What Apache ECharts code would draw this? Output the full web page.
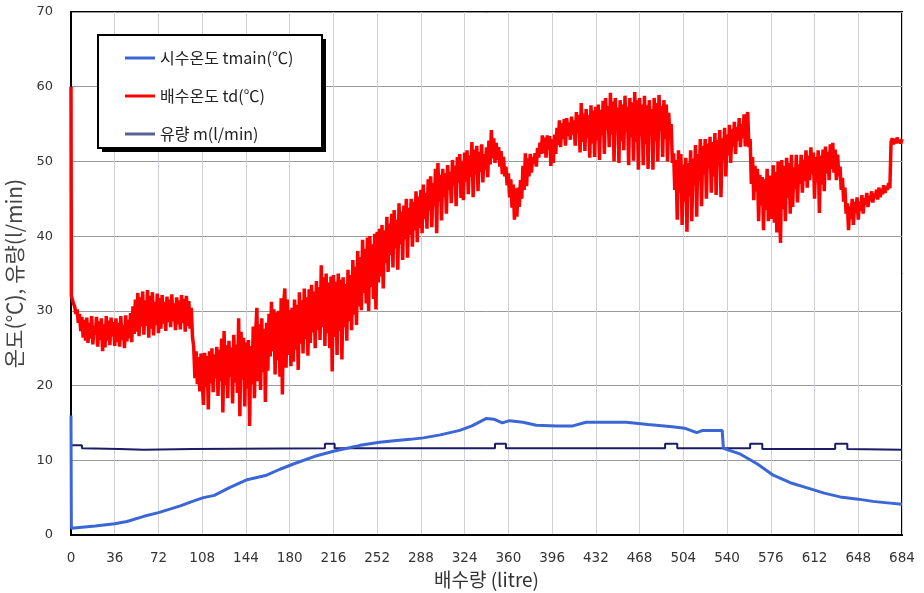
<!DOCTYPE html>
<html>
<head>
<meta charset="utf-8">
<title>배수량에 따른 온도 및 유량</title>
<script src="https://cdn.jsdelivr.net/npm/echarts@6/dist/echarts.min.js"></script>
<style>
  html, body { margin: 0; padding: 0; background: #fff; }
  #chart { width: 924px; height: 593px; }
</style>
</head>
<body>
<div id="chart"></div>
<script>
// Axis ticks
const xTicks = { min: 0, max: 684, step: 36 };
const yTicks = { min: 0, max: 70, step: 10 };

// Series names
const seriesNames = ['시수온도 tmain(℃)', '배수온도 td(℃)', '유량 m(l/min)'];

// Mains water temperature [litre, ℃]
const tmain = [
  [0, 16.0], [0.3, 0.9], [20, 1.2], [36, 1.5], [46, 1.8], [60, 2.5], [72, 3.0],
  [90, 3.9], [100, 4.5], [109, 5.0], [118, 5.3], [130, 6.3], [145, 7.4], [161, 8.0],
  [172, 8.8], [183, 9.5], [200, 10.5], [216, 11.2], [230, 11.7], [238, 12.0],
  [254, 12.4], [266, 12.6], [279, 12.8], [290, 13.0], [304, 13.4], [320, 14.0],
  [330, 14.6], [342, 15.6], [348, 15.5], [355, 15.0], [361, 15.3], [372, 15.1],
  [383, 14.7], [400, 14.6], [413, 14.6], [424, 15.1], [440, 15.1], [457, 15.1],
  [475, 14.8], [495, 14.5], [505, 14.3], [515, 13.7], [520, 14.0], [536, 14.0],
  [537, 11.6], [550, 10.9], [565, 9.5], [578, 8.0], [592, 7.0], [606, 6.3],
  [620, 5.6], [633, 5.1], [648, 4.8], [660, 4.5], [672, 4.3], [684, 4.1]
];

// Drain water temperature: start of run, then one reading per litre from 1 L to 684 L
// (each row below is 36 litres)
const tdHead = [[0, 60.0], [0.3, 32.0]];
const tdValues = [
  31.6, 31.0, 30.6, 29.6, 30.2, 28.4, 29.6, 27.3, 29.2, 26.4, 28.8, 26.0, 29.1, 25.7, 28.4, 26.3, 29.3, 25.5,
  28.0, 26.8, 29.2, 25.2, 28.6, 26.1, 29.0, 24.6, 28.2, 25.1, 29.3, 26.0, 28.7, 25.4, 29.1, 26.6, 28.5, 25.3,
  29.0, 25.8, 28.4, 25.2, 29.3, 26.1, 28.1, 25.0, 29.4, 25.9, 28.8, 26.3, 29.7, 25.8, 30.6, 26.9, 31.5, 27.2,
  32.4, 26.6, 31.8, 27.9, 32.6, 26.8, 31.4, 28.0, 32.8, 26.4, 32.0, 27.6, 32.5, 26.7, 31.2, 28.1, 32.3, 27.0,
  31.7, 27.6, 32.1, 28.3, 31.2, 27.3, 31.9, 28.5, 31.5, 27.8, 32.2, 28.6, 31.0, 27.4, 31.8, 28.2, 31.4, 27.5,
  32.1, 28.4, 31.6, 27.2, 32.0, 28.0, 31.3, 27.6, 30.4, 26.5, 25.2, 21.0, 24.6, 20.2, 23.8, 19.2, 24.3, 20.6,
  17.4, 24.4, 19.8, 24.0, 16.8, 24.6, 20.3, 25.0, 19.1, 24.2, 21.0, 25.2, 18.6, 24.8, 20.6, 26.3, 16.4, 27.3,
  20.1, 25.4, 18.3, 26.0, 21.2, 25.1, 17.6, 26.8, 20.4, 25.5, 19.0, 29.0, 15.9, 27.2, 20.8, 26.4, 17.2, 25.8,
  19.6, 26.1, 14.6, 25.3, 20.2, 27.9, 18.3, 27.0, 30.4, 20.6, 28.2, 19.4, 29.0, 21.8, 27.6, 17.8, 28.4, 22.0,
  29.6, 23.9, 31.2, 24.6, 30.2, 21.5, 29.8, 23.4, 30.0, 21.2, 31.7, 18.8, 30.6, 33.0, 22.4, 31.5, 24.1, 30.1,
  22.6, 30.4, 23.2, 31.5, 24.8, 30.8, 22.1, 32.5, 25.6, 31.4, 24.3, 33.0, 26.2, 31.8, 24.0, 32.9, 25.7, 33.5,
  27.1, 32.6, 25.0, 34.0, 27.4, 33.2, 26.1, 36.1, 27.8, 34.5, 25.3, 35.0, 27.0, 33.8, 25.0, 34.6, 21.9, 34.8,
  26.5, 33.9, 24.1, 35.0, 27.3, 34.2, 23.5, 34.5, 27.8, 33.6, 26.0, 35.5, 28.6, 34.8, 27.4, 36.8, 29.5, 35.9,
  28.1, 38.0, 30.6, 37.2, 30.1, 39.5, 32.4, 38.3, 31.0, 39.8, 30.0, 40.0, 33.2, 38.9, 31.6, 40.3, 30.2, 40.6,
  33.8, 41.0, 34.6, 41.5, 33.0, 40.8, 36.4, 42.6, 35.2, 41.7, 37.5, 43.0, 35.8, 43.5, 38.4, 42.2, 35.5, 44.4,
  38.9, 43.3, 36.8, 44.1, 39.6, 45.0, 37.1, 43.8, 40.2, 45.0, 38.6, 44.6, 40.8, 46.0, 39.2, 45.3, 41.1, 46.2,
  40.4, 46.9, 42.3, 45.8, 41.0, 47.6, 43.4, 48.0, 41.2, 47.1, 44.0, 49.0, 40.4, 49.8, 44.6, 48.2, 42.1, 49.0,
  45.3, 48.4, 43.0, 49.5, 46.2, 48.6, 44.4, 50.2, 46.8, 49.4, 44.0, 50.6, 47.2, 51.0, 45.1, 50.1, 44.8, 51.2,
  47.3, 51.5, 45.6, 50.8, 47.9, 52.6, 45.2, 51.6, 48.2, 52.1, 46.0, 51.3, 48.6, 52.3, 47.2, 51.0, 48.9, 51.9,
  47.9, 52.8, 49.6, 54.2, 50.4, 53.1, 49.8, 52.5, 50.2, 51.9, 49.3, 51.4, 48.3, 50.6, 48.0, 49.3, 46.8, 48.4,
  45.2, 47.6, 43.8, 46.9, 42.2, 46.4, 42.6, 46.5, 43.9, 47.5, 45.0, 49.4, 46.2, 51.1, 46.7, 50.4, 48.0, 51.0,
  48.5, 50.6, 49.7, 51.1, 49.3, 51.8, 50.5, 52.5, 51.0, 53.5, 51.1, 53.2, 50.5, 53.5, 51.6, 53.4, 49.4, 53.0,
  49.8, 53.6, 51.0, 54.5, 52.2, 55.5, 51.9, 55.1, 53.0, 55.7, 52.1, 55.8, 53.4, 55.2, 52.9, 56.0, 53.6, 55.5,
  52.1, 56.6, 53.8, 56.2, 51.2, 57.8, 52.6, 56.4, 51.4, 57.0, 53.1, 56.2, 50.5, 57.5, 52.4, 56.8, 50.6, 57.3,
  52.8, 57.6, 50.2, 56.9, 53.5, 58.1, 51.0, 58.5, 54.2, 57.4, 51.9, 59.2, 53.6, 58.0, 50.0, 58.5, 54.4, 57.2,
  49.8, 58.2, 52.7, 57.6, 51.5, 58.8, 54.0, 57.3, 49.5, 58.5, 53.2, 57.9, 50.1, 59.3, 52.6, 58.2, 48.9, 58.5,
  53.4, 57.6, 49.5, 58.8, 52.3, 57.5, 49.0, 58.2, 53.8, 57.0, 48.9, 58.5, 52.7, 57.8, 50.0, 58.9, 54.1, 57.4,
  50.6, 58.2, 53.0, 57.6, 50.0, 56.5, 52.8, 55.0, 49.8, 51.1, 46.2, 50.2, 42.2, 51.5, 45.8, 51.0, 41.5, 49.6,
  44.6, 50.5, 40.6, 49.8, 45.3, 51.5, 42.0, 50.4, 46.8, 52.2, 42.6, 51.0, 47.4, 53.0, 44.0, 52.1, 48.3, 53.0,
  45.0, 52.4, 49.1, 53.3, 45.8, 52.6, 48.0, 53.8, 45.5, 52.9, 49.5, 54.2, 45.2, 53.1, 50.2, 54.5, 48.0, 53.6,
  50.8, 54.9, 49.8, 54.3, 52.0, 55.3, 51.0, 54.6, 52.8, 55.8, 51.9, 55.0, 53.1, 56.3, 52.0, 55.7, 56.6, 51.9,
  53.0, 47.0, 50.6, 44.8, 49.4, 46.0, 49.0, 42.0, 48.2, 44.1, 47.9, 40.8, 47.6, 43.5, 49.0, 42.0, 48.1, 44.9,
  42.3, 49.5, 41.8, 48.6, 40.5, 50.0, 44.2, 39.1, 50.2, 43.6, 49.4, 42.0, 50.5, 45.1, 49.8, 43.0, 50.9, 43.9,
  49.2, 46.3, 50.9, 44.5, 49.6, 47.0, 50.9, 45.8, 50.2, 47.4, 51.5, 46.5, 50.8, 47.5, 51.9, 48.3, 51.2, 45.0,
  50.6, 47.2, 51.5, 43.1, 50.8, 46.9, 51.6, 46.0, 52.0, 48.4, 51.3, 47.5, 52.3, 49.0, 52.5, 48.5, 51.6, 47.5,
  50.9, 48.0, 49.3, 46.2, 47.8, 44.6, 46.5, 43.0, 44.4, 40.8, 44.0, 42.3, 45.0, 41.5, 44.6, 43.1, 45.2, 42.2,
  44.6, 43.4, 45.5, 43.0, 45.1, 44.2, 45.8, 43.9, 45.4, 44.7, 46.0, 44.5, 45.7, 45.1, 46.2, 44.9, 46.5, 45.2,
  46.3, 45.6, 46.8, 45.8, 46.6, 46.2, 47.1, 46.4, 52.6, 53.1, 52.3, 53.0, 52.4, 53.2, 52.5, 52.9, 52.4, 53.0
];

// Flow rate [litre, l/min]
const flow = [
  [0, 12.0], [9, 12.0], [9, 11.6], [40, 11.5], [60, 11.4], [100, 11.5], [209, 11.6],
  [209, 12.2], [217, 12.2], [217, 11.6], [349, 11.6], [349, 12.2], [358, 12.2], [358, 11.6],
  [489, 11.6], [489, 12.2], [499, 12.2], [499, 11.6], [559, 11.6], [559, 12.2], [569, 12.2],
  [569, 11.5], [629, 11.5], [629, 12.2], [639, 12.2], [639, 11.5], [684, 11.4]
];

const td = tdHead.concat(tdValues.map((v, i) => [i + 1, v]));

const FONT_KR = '"Noto Sans CJK KR", "Noto Sans", sans-serif';
const FONT_NUM = '"DejaVu Sans", sans-serif';
const chart = echarts.init(document.getElementById('chart'), null, { renderer: 'canvas' });

chart.setOption({
  backgroundColor: '#ffffff',
  animation: false,
  textStyle: { fontFamily: FONT_KR },
  grid: {
    left: 71, right: 22, top: 12, bottom: 58,
    outerBoundsMode: 'none',
    containLabel: false,
    show: true, borderColor: '#000', borderWidth: 2, backgroundColor: 'transparent'
  },
  graphic: [
    { type: 'rect', z: 3, shape: { x: 102, y: 39, width: 224, height: 113 }, style: { fill: '#000' } },
    { type: 'rect', z: 3, shape: { x: 98, y: 35, width: 224, height: 113 }, style: { fill: '#fff', stroke: '#000', lineWidth: 2 } }
  ],
  legend: {
    orient: 'vertical',
    left: 125, top: 50,
    padding: 0,
    itemWidth: 30, itemHeight: 3, itemGap: 22,
    icon: 'rect',
    z: 5,
    textStyle: { fontSize: 16, color: '#222', fontFamily: FONT_KR },
    data: seriesNames
  },
  xAxis: {
    type: 'value',
    min: xTicks.min, max: xTicks.max, interval: xTicks.step,
    name: '배수량 (litre)',
    nameLocation: 'middle', nameGap: 34,
    nameTextStyle: { fontSize: 19, color: '#333', fontFamily: FONT_KR },
    axisLine: { show: true, onZero: false, lineStyle: { color: '#000', width: 2 } },
    axisTick: { show: false },
    axisLabel: { fontSize: 13.5, color: '#333', margin: 16, fontFamily: FONT_NUM },
    splitLine: { show: true, lineStyle: { color: '#d0d0d6', width: 1 } }
  },
  yAxis: {
    type: 'value',
    min: yTicks.min, max: yTicks.max, interval: yTicks.step,
    name: '온도(℃), 유량(l/min)',
    nameLocation: 'middle', nameGap: 46, nameRotate: 90,
    nameTextStyle: { fontSize: 21, color: '#444', fontFamily: FONT_KR },
    axisLine: { show: true, lineStyle: { color: '#000', width: 2 } },
    axisTick: { show: false },
    axisLabel: { fontSize: 13, color: '#333', margin: 18, fontFamily: FONT_NUM },
    splitLine: { show: true, lineStyle: { color: '#9a9a9a', width: 1 } }
  },
  series: [
    {
      name: seriesNames[0], type: 'line', data: tmain, showSymbol: false, z: 3,
      lineStyle: { color: '#3b67d6', width: 3 }, itemStyle: { color: '#3b67d6' }
    },
    {
      name: seriesNames[1], type: 'line', data: td, showSymbol: false, z: 4,
      lineStyle: { color: '#ff0000', width: 3.5 }, itemStyle: { color: '#ff0000' }
    },
    {
      name: seriesNames[2], type: 'line', data: flow, showSymbol: false, z: 2,
      lineStyle: { color: '#1c1c66', width: 2 }, itemStyle: { color: '#5a6090' }
    }
  ]
});
</script>
</body>
</html>
